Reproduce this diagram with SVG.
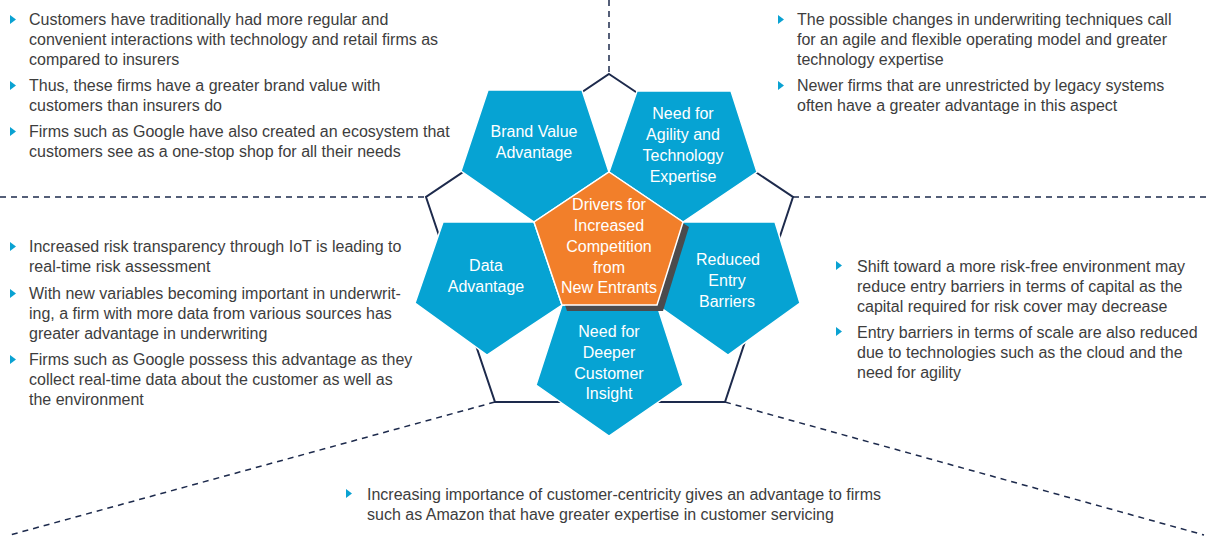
<svg xmlns="http://www.w3.org/2000/svg" width="1207" height="541" viewBox="0 0 1207 541">
<style>
.body{font-family:"Liberation Sans",Arial,sans-serif;font-size:16px;fill:#3d3d3d}
.lbl{font-family:"Liberation Sans",Arial,sans-serif;font-size:16px;fill:#ffffff;text-anchor:middle}
.blue{fill:#06a3d3;stroke:#ffffff;stroke-width:1.5}
.bul{fill:#0aa2d2}
.dash{stroke:#1d2a4c;stroke-width:1.5;stroke-dasharray:6 5;fill:none}
.outline{stroke:#1d2a4c;stroke-width:2;fill:none;stroke-linejoin:miter}
</style>
<rect width="1207" height="541" fill="#ffffff"/>
<g id="connectors">
<line class="dash" x1="609" y1="0" x2="609" y2="74"/>
<line class="dash" x1="0" y1="197" x2="426" y2="197"/>
<line class="dash" x1="793" y1="197" x2="1207" y2="197"/>
<line class="dash" x1="495" y1="402" x2="10" y2="535"/>
<line class="dash" x1="725" y1="402" x2="1204" y2="535"/>
<polygon class="outline" points="609,74 793,197 725,402 495,402 426,197"/>
</g>
<g id="node-brand">
<polygon class="blue" points="488,90 582,90 609,172 534,222 461,171"/>
<text class="lbl" x="534" y="137">Brand Value</text>
<text class="lbl" x="534" y="158">Advantage</text>
</g>
<g id="node-agility">
<polygon class="blue" points="637,91 731,91 757,172 683,222 609,172"/>
<text class="lbl" x="683" y="119">Need for</text>
<text class="lbl" x="683" y="140">Agility and</text>
<text class="lbl" x="683" y="161">Technology</text>
<text class="lbl" x="683" y="182">Expertise</text>
</g>
<g id="node-data">
<polygon class="blue" points="443,222 534,222 562,305 487,355 415,303"/>
<text class="lbl" x="486" y="271">Data</text>
<text class="lbl" x="486" y="292">Advantage</text>
</g>
<g id="node-reduced">
<polygon class="blue" points="683,222 775,222 800,303 728,355 657,305"/>
<text class="lbl" x="728" y="265">Reduced</text>
<text class="lbl" x="727" y="286">Entry</text>
<text class="lbl" x="727" y="307">Barriers</text>
</g>
<g id="node-insight">
<polygon class="blue" points="562,305 657,305 683,385 609,436 536,385"/>
<text class="lbl" x="609" y="337">Need for</text>
<text class="lbl" x="609" y="358">Deeper</text>
<text class="lbl" x="609" y="379">Customer</text>
<text class="lbl" x="609" y="399">Insight</text>
</g>
<g id="node-center">
<polygon fill="#4b4b4d" points="614,178 689,227 663,311 567,311 539,228"/>
<polygon fill="#f27f2a" stroke="#ffffff" stroke-width="1.5" points="609,172 683,222 657,305 562,305 534,222"/>
<text class="lbl" x="609" y="210">Drivers for</text>
<text class="lbl" x="609" y="231">Increased</text>
<text class="lbl" x="609" y="252">Competition</text>
<text class="lbl" x="609" y="273">from</text>
<text class="lbl" x="609" y="293">New Entrants</text>
</g>
<g id="text-brand">
<polygon class="bul" points="10,15 16,19.5 10,24"/>
<text class="body" x="29" y="25">Customers have traditionally had more regular and</text>
<text class="body" x="29" y="45">convenient interactions with technology and retail firms as</text>
<text class="body" x="29" y="65">compared to insurers</text>
<polygon class="bul" points="10,81 16,85.5 10,90"/>
<text class="body" x="29" y="91">Thus, these firms have a greater brand value with</text>
<text class="body" x="29" y="111">customers than insurers do</text>
<polygon class="bul" points="10,127 16,131.5 10,136"/>
<text class="body" x="29" y="137">Firms such as Google have also created an ecosystem that</text>
<text class="body" x="29" y="157">customers see as a one-stop shop for all their needs</text>
</g>
<g id="text-agility">
<polygon class="bul" points="778,15 784,19.5 778,24"/>
<text class="body" x="797" y="25">The possible changes in underwriting techniques call</text>
<text class="body" x="797" y="45">for an agile and flexible operating model and greater</text>
<text class="body" x="797" y="65">technology expertise</text>
<polygon class="bul" points="778,81 784,85.5 778,90"/>
<text class="body" x="797" y="91">Newer firms that are unrestricted by legacy systems</text>
<text class="body" x="797" y="111">often have a greater advantage in this aspect</text>
</g>
<g id="text-data">
<polygon class="bul" points="10,242 16,246.5 10,251"/>
<text class="body" x="29" y="252">Increased risk transparency through IoT is leading to</text>
<text class="body" x="29" y="272">real-time risk assessment</text>
<polygon class="bul" points="10,289 16,293.5 10,298"/>
<text class="body" x="29" y="299">With new variables becoming important in underwrit-</text>
<text class="body" x="29" y="319">ing, a firm with more data from various sources has</text>
<text class="body" x="29" y="339">greater advantage in underwriting</text>
<polygon class="bul" points="10,355 16,359.5 10,364"/>
<text class="body" x="29" y="365">Firms such as Google possess this advantage as they</text>
<text class="body" x="29" y="385">collect real-time data about the customer as well as</text>
<text class="body" x="29" y="405">the environment</text>
</g>
<g id="text-reduced">
<polygon class="bul" points="836,261 842,265.5 836,270"/>
<text class="body" x="857" y="272">Shift toward a more risk-free environment may</text>
<text class="body" x="857" y="292">reduce entry barriers in terms of capital as the</text>
<text class="body" x="857" y="312">capital required for risk cover may decrease</text>
<polygon class="bul" points="836,327 842,331.5 836,336"/>
<text class="body" x="857" y="338">Entry barriers in terms of scale are also reduced</text>
<text class="body" x="857" y="358">due to technologies such as the cloud and the</text>
<text class="body" x="857" y="378">need for agility</text>
</g>
<g id="text-insight">
<polygon class="bul" points="346,489 352,493.5 346,498"/>
<text class="body" x="367" y="500">Increasing importance of customer-centricity gives an advantage to firms</text>
<text class="body" x="367" y="520">such as Amazon that have greater expertise in customer servicing</text>
</g>
</svg>
